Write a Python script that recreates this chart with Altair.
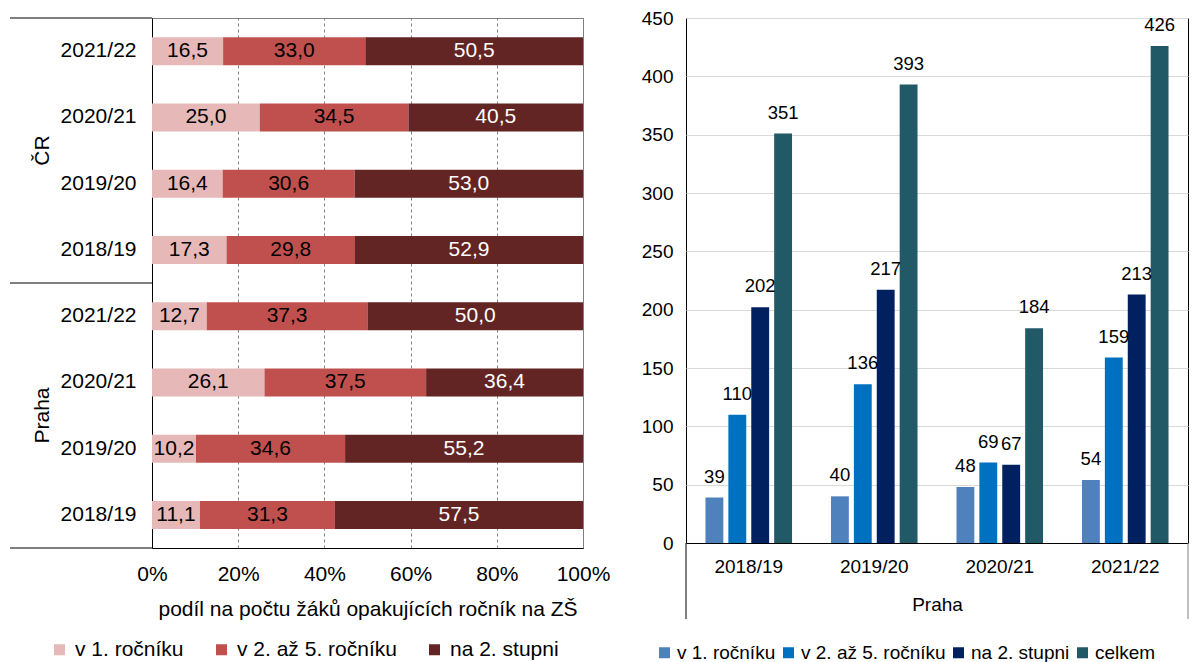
import altair as alt
import pandas as pd

# ---------------- data ----------------
groups = ["ČR", "Praha"]
years_desc = ["2021/22", "2020/21", "2019/20", "2018/19"]
share_series = ["v 1. ročníku", "v 2. až 5. ročníku", "na 2. stupni"]

cr_1 = [16.5, 25.0, 16.4, 17.3]
cr_2_5 = [33.0, 34.5, 30.6, 29.8]
cr_st2 = [50.5, 40.5, 53.0, 52.9]
praha_1 = [12.7, 26.1, 10.2, 11.1]
praha_2_5 = [37.3, 37.5, 34.6, 31.3]
praha_st2 = [50.0, 36.4, 55.2, 57.5]

years = ["2018/19", "2019/20", "2020/21", "2021/22"]
count_series = ["v 1. ročníku", "v 2. až 5. ročníku", "na 2. stupni", "celkem"]
p_1 = [39, 40, 48, 54]
p_2_5 = [110, 136, 69, 159]
p_st2 = [202, 217, 67, 213]
p_total = [351, 393, 184, 426]

share_colors = ["#E6B9B8", "#C0504D", "#632523"]
count_colors = ["#4F81BD", "#0070C0", "#002060", "#215967"]
FONT = "Liberation Sans"

# ---------------- tables ----------------
share_vals = {
    "ČR": [cr_1, cr_2_5, cr_st2],
    "Praha": [praha_1, praha_2_5, praha_st2],
}
rows = []
for g in groups:
    for i, y in enumerate(years_desc):
        for k, s in enumerate(share_series):
            v = share_vals[g][k][i]
            rows.append({"key": f"{g}|{y}", "series": s, "order": k, "value": v,
                         "label": f"{v:.1f}".replace(".", ",")})
share_df = pd.DataFrame(rows)
keys = [f"{g}|{y}" for g in groups for y in years_desc]

count_vals = [p_1, p_2_5, p_st2, p_total]
crow = []
for k, s in enumerate(count_series):
    for i, y in enumerate(years):
        crow.append({"year": y, "series": s, "value": count_vals[k][i]})
count_df = pd.DataFrame(crow)

# ---------------- left chart ----------------
W1, H1 = 431, 530
yscale = alt.Scale(domain=keys, paddingInner=0, paddingOuter=0)

base = alt.Chart(share_df).transform_stack(
    stack="value", groupby=["key"], as_=["x0", "x1"], offset="normalize",
    sort=[alt.SortField("order", order="ascending")],
).transform_calculate(mid="(datum.x0 + datum.x1) / 2")

bars = base.mark_bar(size=28).encode(
    y=alt.Y("key:N", scale=yscale,
            axis=alt.Axis(labelExpr="split(datum.value, '|')[1]", title=None, ticks=False,
                          domainColor="black", labelFontSize=21, labelPadding=16)),
    x=alt.X("x0:Q", scale=alt.Scale(domain=[0, 1]),
            axis=alt.Axis(format=".0%", values=[0, 0.2, 0.4, 0.6, 0.8, 1.0],
                          grid=True, gridDash=[3, 3], gridColor="#808080",
                          ticks=False, domainColor="black", labelFontSize=21,
                          labelFlush=False,
                          labelPadding=15, title="podíl na počtu žáků opakujících ročník na ZŠ",
                          titleFontSize=21, titlePadding=14)),
    x2="x1:Q",
    color=alt.Color("series:N", scale=alt.Scale(domain=share_series, range=share_colors),
                    legend=alt.Legend(orient="none", legendX=-103, legendY=621,
                                      direction="horizontal", columns=3, title=None,
                                      symbolType="square", symbolSize=121,
                                      symbolStrokeWidth=0, labelFontSize=21,
                                      columnPadding=27, labelOffset=5, padding=0)),
)

seg_labels = base.mark_text(fontSize=21).encode(
    y=alt.Y("key:N"),
    x=alt.X("mid:Q"),
    text="label:N",
    color=alt.when(alt.datum.series == "na 2. stupni").then(alt.value("white")).otherwise(alt.value("black")),
)

sep_top = alt.Chart(pd.DataFrame({"key": [keys[0], keys[4]]})).mark_rule(
    color="black", strokeWidth=1).encode(
    y=alt.Y("key:N", bandPosition=0), x=alt.value(-142), x2=alt.value(0))
sep_bot = alt.Chart(pd.DataFrame({"key": [keys[-1]]})).mark_rule(
    color="black", strokeWidth=1).encode(
    y=alt.Y("key:N", bandPosition=1), x=alt.value(-142), x2=alt.value(0))

glab = alt.Chart(pd.DataFrame({"key": [f"{g}|{years_desc[2]}" for g in groups],
                               "group": groups})).mark_text(angle=270, fontSize=21).encode(
    y=alt.Y("key:N", bandPosition=0), x=alt.value(-109), text="group:N")

left = alt.layer(bars, seg_labels, sep_top, sep_bot, glab).properties(
    width=W1, height=H1, view=alt.ViewBackground(stroke="#808080"))

# ---------------- right chart ----------------
W2, H2 = 502, 525
rbase = alt.Chart(count_df).encode(
    x=alt.X("year:N", scale=alt.Scale(domain=years, paddingInner=0, paddingOuter=0),
            axis=alt.Axis(title="Praha", labelAngle=0, ticks=False, domainColor="black",
                          labelFontSize=19, labelPadding=14, titleFontSize=19, titlePadding=19)),
    xOffset=alt.XOffset("series:N", scale=alt.Scale(domain=count_series, paddingInner=0.22,
                                                    paddingOuter=0.85)),
    y=alt.Y("value:Q", scale=alt.Scale(domain=[0, 450]),
            axis=alt.Axis(values=list(range(0, 451, 50)), gridColor="#D9D9D9", ticks=False,
                          domain=False, title=None, labelFontSize=19, labelPadding=13)),
)
rbars = rbase.mark_bar().encode(
    color=alt.Color("series:N", scale=alt.Scale(domain=count_series, range=count_colors),
                    legend=alt.Legend(orient="none", legendX=-31, legendY=625,
                                      direction="horizontal", columns=4, title=None,
                                      symbolType="square", symbolSize=121,
                                      symbolStrokeWidth=0, labelFontSize=19,
                                      columnPadding=3, labelOffset=3, padding=0)),
)
rtext = rbase.mark_text(dy=-15, baseline="alphabetic", fontSize=18.5).encode(text="value:Q")

frame_l = alt.Chart(pd.DataFrame({"k": [0]})).mark_rule(color="black").encode(
    x=alt.value(0), y=alt.value(H2), y2=alt.value(H2 + 76))
frame_r = alt.Chart(pd.DataFrame({"k": [0]})).mark_rule(color="#808080").encode(
    x=alt.value(W2), y=alt.value(H2), y2=alt.value(H2 + 76))

right = alt.layer(rbars, rtext, frame_l, frame_r).properties(
    width=W2, height=H2, view=alt.ViewBackground(stroke="black"))

chart = alt.hconcat(left, right, spacing=103, bounds="flush").resolve_scale(
    color="independent"
).properties(
    padding={"left": 1, "top": 0, "right": 0, "bottom": 0}
).configure(font=FONT).configure_axis(
    labelFont=FONT, titleFont=FONT, labelColor="black", titleColor="black",
    titleFontWeight="normal"
).configure_legend(labelFont=FONT, labelColor="black").configure_text(font=FONT)

chart.save("out.html", embed_options={"renderer": "svg", "actions": False})
